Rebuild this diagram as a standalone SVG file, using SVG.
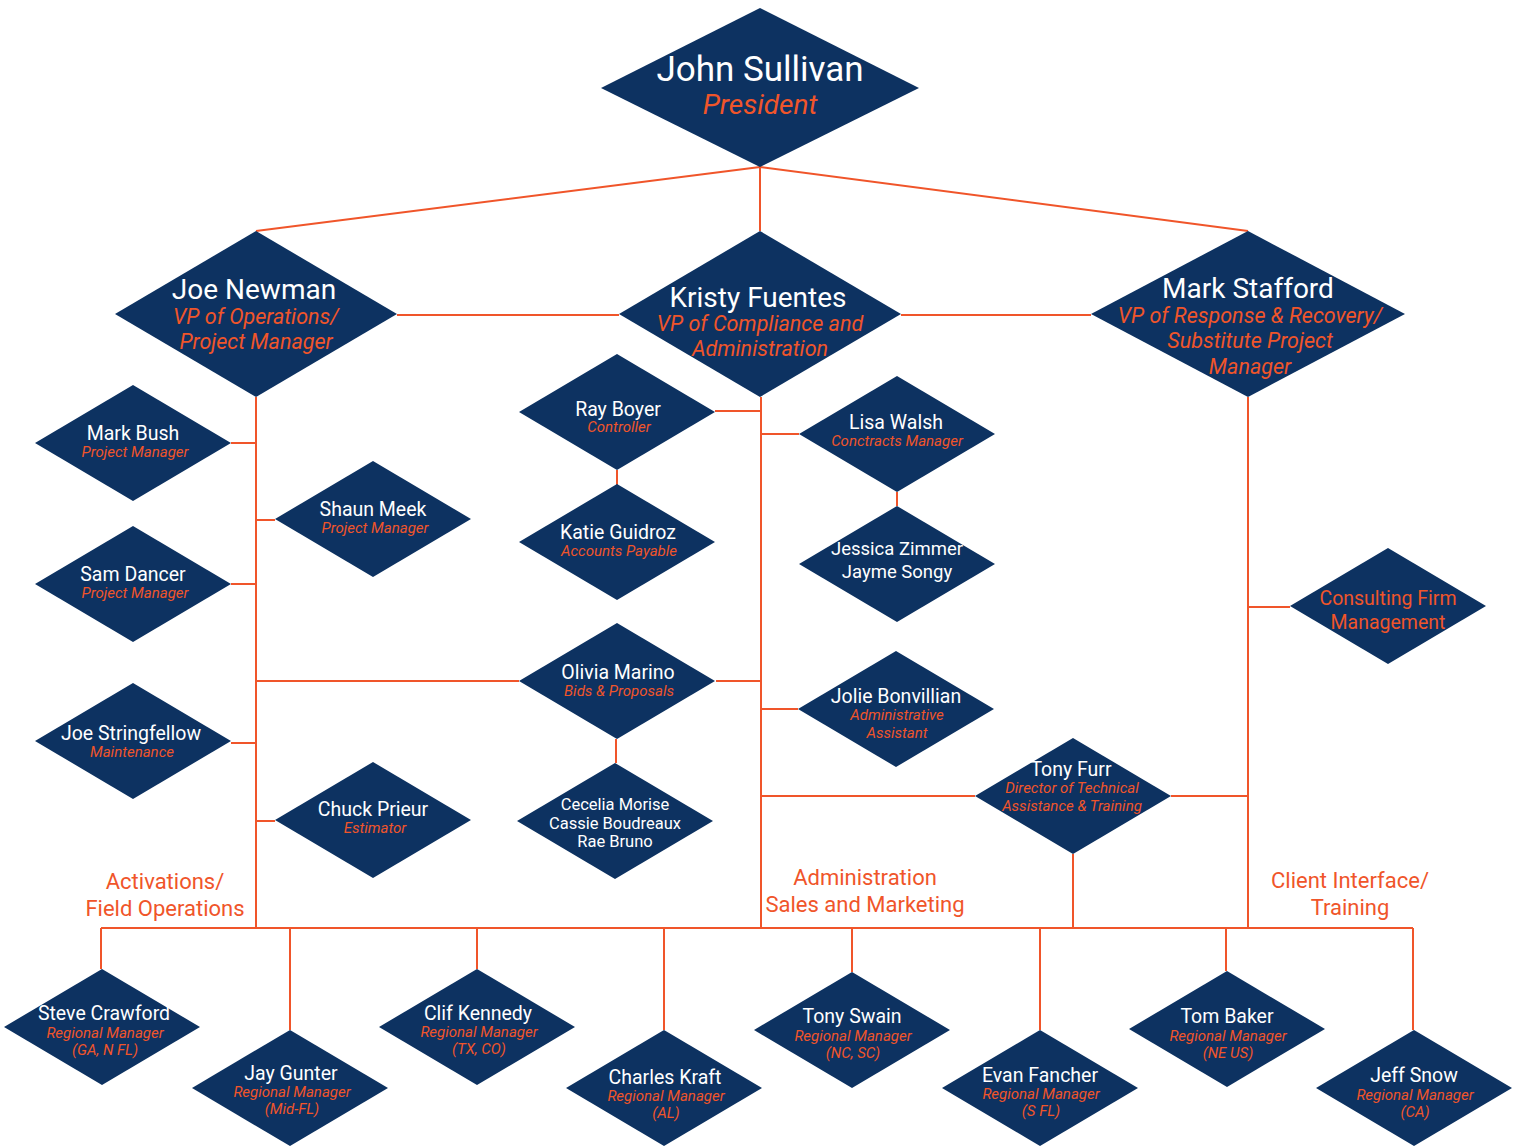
<svg xmlns="http://www.w3.org/2000/svg" width="1520" height="1146" viewBox="0 0 1520 1146">
<style>
.d{fill:#0d3261}
.c{stroke:#f0552a;stroke-width:2;fill:none}
text{font-family:Roboto,"Liberation Sans",sans-serif;text-anchor:middle}
.n{fill:#ffffff;font-size:19.5px}
.s{fill:#f0552a;font-size:15px;font-style:italic}
.bn{fill:#ffffff;font-size:28px}
.bs{fill:#f0552a;font-size:21.5px;font-style:italic}
.g{fill:#f0552a;font-size:22px}
</style>
<rect width="1520" height="1146" fill="#ffffff"/>
<g id="connectors" class="c">
<path d="M760,167 L256,231 M760,167 L760,231 M760,167 L1248,231"/>
<path d="M397,315 H619 M901,315 H1091"/>
<path d="M256,397 V928 M231,443 H256 M256,520 H275 M231,584 H256 M256,681 H519 M231,743 H256 M256,821 H275"/>
<path d="M761,397 V928 M715,411 H761 M761,434 H799 M716,681 H761 M761,709 H798 M761,796 H975"/>
<path d="M617,470 V485 M897,492 V506 M616,739 V763"/>
<path d="M1248,397 V928 M1248,607 H1290 M1171,796 H1248 M1073,854 V928"/>
<path d="M101,928 H1413 M101,928 V969 M290,928 V1030 M477,928 V969 M664,928 V1030 M852,928 V972 M1040,928 V1030 M1226,928 V971 M1413,928 V1030"/>
</g>
<g id="john-sullivan"><polygon class="d" points="760,8 919,88 760,167 601,88"/><text class="bn" x="760" y="81" style="font-size:35px">John Sullivan</text><text class="bs" x="760" y="114" style="font-size:28px">President</text></g>
<g id="joe-newman"><polygon class="d" points="256,231 397,314 256,397 115,314"/><text class="bn" x="254" y="299">Joe Newman</text><text class="bs" x="256" y="324">VP of Operations/</text><text class="bs" x="256" y="349">Project Manager</text></g>
<g id="kristy-fuentes"><polygon class="d" points="760,231 901,314 760,397 619,314"/><text class="bn" x="758" y="307">Kristy Fuentes</text><text class="bs" x="760" y="331">VP of Compliance and</text><text class="bs" x="760" y="356">Administration</text></g>
<g id="mark-stafford"><polygon class="d" points="1248,231 1405,314 1248,397 1091,314"/><text class="bn" x="1248" y="298">Mark Stafford</text><text class="bs" x="1250" y="323">VP of Response &amp; Recovery/</text><text class="bs" x="1250" y="348">Substitute Project</text><text class="bs" x="1250" y="374">Manager</text></g>
<g id="mark-bush"><polygon class="d" points="133,385 231,443 133,501 35,443"/><text class="n" x="133" y="440">Mark Bush</text><text class="s" x="135" y="457">Project Manager</text></g>
<g id="shaun-meek"><polygon class="d" points="373,461 471,519 373,577 275,519"/><text class="n" x="373" y="516">Shaun Meek</text><text class="s" x="375" y="533">Project Manager</text></g>
<g id="sam-dancer"><polygon class="d" points="133,526 231,584 133,642 35,584"/><text class="n" x="133" y="581">Sam Dancer</text><text class="s" x="135" y="598">Project Manager</text></g>
<g id="joe-stringfellow"><polygon class="d" points="133,683 231,741 133,799 35,741"/><text class="n" x="131" y="740">Joe Stringfellow</text><text class="s" x="132" y="757">Maintenance</text></g>
<g id="chuck-prieur"><polygon class="d" points="373,762 471,820 373,878 275,820"/><text class="n" x="373" y="816">Chuck Prieur</text><text class="s" x="375" y="833">Estimator</text></g>
<g id="ray-boyer"><polygon class="d" points="617,354 715,412 617,470 519,412"/><text class="n" x="618" y="416">Ray Boyer</text><text class="s" x="619" y="432">Controller</text></g>
<g id="katie-guidroz"><polygon class="d" points="617,484 715,542 617,600 519,542"/><text class="n" x="618" y="539">Katie Guidroz</text><text class="s" x="619" y="556">Accounts Payable</text></g>
<g id="olivia-marino"><polygon class="d" points="617,623 715,681 617,739 519,681"/><text class="n" x="618" y="679">Olivia Marino</text><text class="s" x="619" y="696">Bids &amp; Proposals</text></g>
<g id="cecelia-morise"><polygon class="d" points="615,763 713,821 615,879 517,821"/><text class="n" x="615" y="810" style="font-size:16.5px">Cecelia Morise</text><text class="n" x="615" y="829" style="font-size:16.5px">Cassie Boudreaux</text><text class="n" x="615" y="847" style="font-size:16.5px">Rae Bruno</text></g>
<g id="lisa-walsh"><polygon class="d" points="897,376 995,434 897,492 799,434"/><text class="n" x="896" y="429">Lisa Walsh</text><text class="s" x="897" y="446">Conctracts Manager</text></g>
<g id="jessica-zimmer"><polygon class="d" points="897,506 995,564 897,622 799,564"/><text class="n" x="897" y="555" style="font-size:18.5px">Jessica Zimmer</text><text class="n" x="897" y="578" style="font-size:18.5px">Jayme Songy</text></g>
<g id="jolie-bonvillian"><polygon class="d" points="896,651 994,709 896,767 798,709"/><text class="n" x="896" y="703">Jolie Bonvillian</text><text class="s" x="897" y="720">Administrative</text><text class="s" x="897" y="738">Assistant</text></g>
<g id="tony-furr"><polygon class="d" points="1073,738 1171,796 1073,854 975,796"/><text class="n" x="1071" y="776">Tony Furr</text><text class="s" x="1072" y="793">Director of Technical</text><text class="s" x="1072" y="811">Assistance &amp; Training</text></g>
<g id="consulting-firm"><polygon class="d" points="1388,548 1486,606 1388,664 1290,606"/><text class="g" x="1388" y="605" style="font-size:19.5px">Consulting Firm</text><text class="g" x="1388" y="629" style="font-size:19.5px">Management</text></g>
<g id="label-activations"><text class="g" x="165" y="889">Activations/</text><text class="g" x="165" y="916">Field Operations</text></g>
<g id="label-administration"><text class="g" x="865" y="885">Administration</text><text class="g" x="865" y="912">Sales and Marketing</text></g>
<g id="label-client"><text class="g" x="1350" y="888">Client Interface/</text><text class="g" x="1350" y="915">Training</text></g>
<g id="steve-crawford"><polygon class="d" points="102,969 200,1027 102,1085 4,1027"/><text class="n" x="104" y="1020">Steve Crawford</text><text class="s" x="105" y="1038">Regional Manager</text><text class="s" x="105" y="1055">(GA, N FL)</text></g>
<g id="jay-gunter"><polygon class="d" points="290,1030 388,1088 290,1146 192,1088"/><text class="n" x="291" y="1080">Jay Gunter</text><text class="s" x="292" y="1097">Regional Manager</text><text class="s" x="292" y="1114">(Mid-FL)</text></g>
<g id="clif-kennedy"><polygon class="d" points="477,969 575,1027 477,1085 379,1027"/><text class="n" x="478" y="1020">Clif Kennedy</text><text class="s" x="479" y="1037">Regional Manager</text><text class="s" x="479" y="1054">(TX, CO)</text></g>
<g id="charles-kraft"><polygon class="d" points="664,1030 762,1088 664,1146 566,1088"/><text class="n" x="665" y="1084">Charles Kraft</text><text class="s" x="666" y="1101">Regional Manager</text><text class="s" x="666" y="1118">(AL)</text></g>
<g id="tony-swain"><polygon class="d" points="852,972 950,1030 852,1088 754,1030"/><text class="n" x="852" y="1023">Tony Swain</text><text class="s" x="853" y="1041">Regional Manager</text><text class="s" x="853" y="1058">(NC, SC)</text></g>
<g id="evan-fancher"><polygon class="d" points="1040,1030 1138,1088 1040,1146 942,1088"/><text class="n" x="1040" y="1082">Evan Fancher</text><text class="s" x="1041" y="1099">Regional Manager</text><text class="s" x="1041" y="1116">(S FL)</text></g>
<g id="tom-baker"><polygon class="d" points="1227,971 1325,1029 1227,1087 1129,1029"/><text class="n" x="1227" y="1023">Tom Baker</text><text class="s" x="1228" y="1041">Regional Manager</text><text class="s" x="1228" y="1058">(NE US)</text></g>
<g id="jeff-snow"><polygon class="d" points="1414,1030 1512,1088 1414,1146 1316,1088"/><text class="n" x="1414" y="1082">Jeff Snow</text><text class="s" x="1415" y="1100">Regional Manager</text><text class="s" x="1415" y="1117">(CA)</text></g>
</svg>
